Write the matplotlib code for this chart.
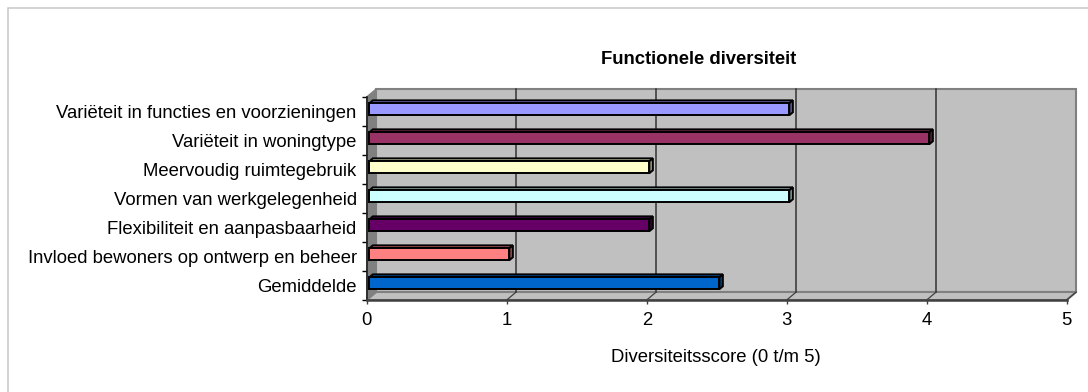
import numpy as np
import matplotlib
matplotlib.use('Agg')
import matplotlib.pyplot as plt
from matplotlib.patches import Polygon, Rectangle
from matplotlib.colors import to_rgb

plt.rcParams['font.family'] = ['Liberation Sans', 'DejaVu Sans']

# data (top to bottom as in the chart)
categories = ['Variëteit in functies en voorzieningen',
              'Variëteit in woningtype',
              'Meervoudig ruimtegebruik',
              'Vormen van werkgelegenheid',
              'Flexibiliteit en aanpasbaarheid',
              'Invloed bewoners op ontwerp en beheer',
              'Gemiddelde']
scores = [3, 4, 2, 3, 2, 1, 2.5]
bar_colors = ['#9999FF', '#993366', '#FFFFCC', '#CCFFFF', '#660066', '#FF8080', '#0066CC']
x_ticks = [0, 1, 2, 3, 4, 5]

W, H = 1088, 392
fig = plt.figure(figsize=(W / 100, H / 100), dpi=100)

# front plane of the pseudo 3-D box, in pixels
left, right, top, bottom = 366.7, 1066.7, 97, 300
ax = fig.add_axes([left / W, 1 - bottom / H, (right - left) / W, (bottom - top) / H])
n = len(categories)
xmax = x_ticks[-1]
ax.set_xlim(0, xmax)
ax.set_ylim(-0.5, n - 0.5)
ax.set_facecolor('none')

# depth of the box in data units
dx = 9.5 / (right - left) * xmax
dy = 8 / (bottom - top) * n

# walls and floor
ax.add_patch(Rectangle((dx, -0.5 + dy), xmax, n, fc='#C0C0C0', ec='#808080',
                       lw=1.5, zorder=0.5, clip_on=False))
ax.add_patch(Polygon([(0, -0.5), (dx, -0.5 + dy), (dx, n - 0.5 + dy), (0, n - 0.5)],
                     closed=True, fc='#808080', ec='#808080', lw=1, zorder=0.6, clip_on=False))
ax.add_patch(Polygon([(0, -0.5), (xmax, -0.5), (xmax + dx, -0.5 + dy), (dx, -0.5 + dy)],
                     closed=True, fc='#C0C0C0', ec='#808080', lw=1.5, zorder=0.6, clip_on=False))
for k in x_ticks[1:-1]:
    ax.plot([k + dx, k + dx], [-0.5 + dy, n - 0.5 + dy], color='#333333', lw=1.1,
            zorder=0.8, clip_on=False)
for k in x_ticks[1:]:
    ax.plot([k, k + dx], [-0.5, -0.5 + dy], color='#404040', lw=0.9, zorder=0.8, clip_on=False)

# bars with top and side faces
f, b = 0.28, 0.65
h = 0.41
for i, (v, c) in enumerate(zip(scores, bar_colors)):
    y = n - 1 - i
    x0 = f * dx
    y0 = y - h / 2 + f * dy
    y1 = y + h / 2 + f * dy
    ddx, ddy = (b - f) * dx, (b - f) * dy
    rgb = np.array(to_rgb(c))
    ax.add_patch(Polygon([(x0, y1), (v + x0, y1), (v + x0 + ddx, y1 + ddy), (x0 + ddx, y1 + ddy)],
                         closed=True, fc=rgb * 0.75, ec='black', lw=1.4, zorder=3, clip_on=False))
    ax.add_patch(Polygon([(v + x0, y0), (v + x0 + ddx, y0 + ddy), (v + x0 + ddx, y1 + ddy), (v + x0, y1)],
                         closed=True, fc=rgb * 0.6, ec='black', lw=1.4, zorder=3, clip_on=False))
    ax.add_patch(Rectangle((x0, y0), v, h, fc=c, ec='black', lw=1.4, zorder=3.1, clip_on=False))

# axes styling
for s in ['top', 'right']:
    ax.spines[s].set_visible(False)
ax.spines['bottom'].set_color('#404040')
ax.spines['bottom'].set_linewidth(1.8)
ax.spines['left'].set_color('#202020')
ax.spines['left'].set_linewidth(1.2)

ax.set_xticks(x_ticks)
ax.set_xticklabels([str(t) for t in x_ticks])
ax.tick_params(axis='x', length=2.9, width=1, color='#404040', pad=6, labelsize=13.3)
ax.set_yticks(range(n))
ax.set_yticklabels(categories[::-1])
ax.tick_params(axis='y', which='major', length=0, pad=7.2, labelsize=13.3)
ax.set_yticks(np.arange(-0.5, n, 1.0), minor=True)
ax.tick_params(axis='y', which='minor', length=3.6, width=1, color='black')

ax.set_xlabel('Diversiteitsscore (0 t/m 5)', fontsize=13.3)
ax.xaxis.set_label_coords((716 - left) / (right - left), -(358 - bottom) / (bottom - top))
ax.xaxis.label.set_va('center')

fig.text(699 / W, 1 - 60 / H, 'Functionele diversiteit', ha='center', va='center',
         fontsize=13.3, fontweight='bold')

# chart area border
fig.add_artist(Rectangle((7.5 / W, -0.1), 1.2, 1.1 - 8 / H, transform=fig.transFigure,
                         fill=False, ec='#C8C8C8', lw=1.1))

fig.savefig('out.png', dpi=100)
